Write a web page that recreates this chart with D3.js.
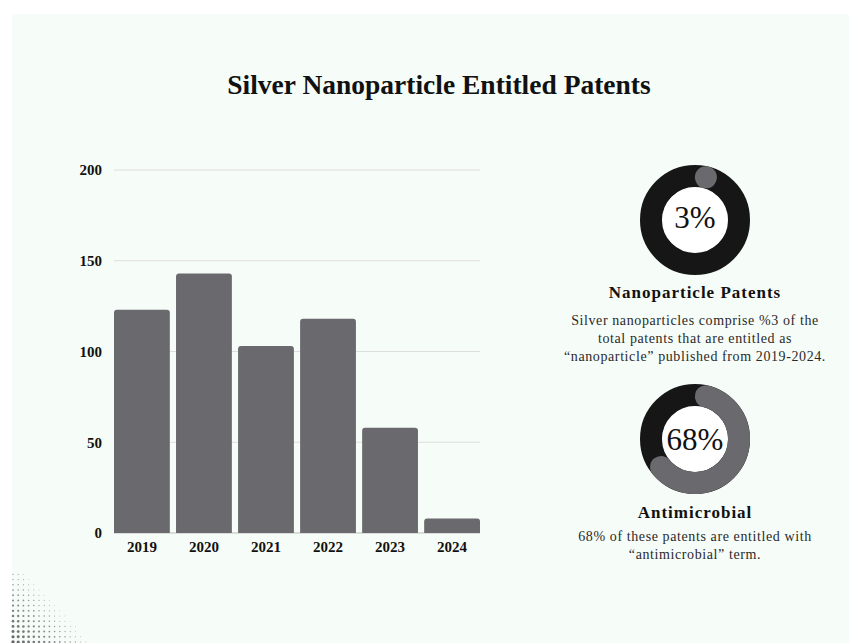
<!DOCTYPE html>
<html>
<head>
<meta charset="utf-8">
<script src="https://cdn.jsdelivr.net/npm/d3@7"></script>
<style>
  html, body { margin: 0; padding: 0; background: #ffffff; }
  svg { display: block; }
</style>
</head>
<body>
<div id="chart"></div>
<script>
const title = "Silver Nanoparticle Entitled Patents";
const years = ["2019", "2020", "2021", "2022", "2023", "2024"];
const patents = [123, 143, 103, 118, 58, 8];
const y_ticks = [0, 50, 100, 150, 200];

const donut_values = [3, 68];
const donut_labels = ["3%", "68%"];
const donut_titles = ["Nanoparticle Patents", "Antimicrobial"];
const donut_texts = [
  ["Silver nanoparticles comprise %3 of the", "total patents that are entitled as", "\u201cnanoparticle\u201d published from 2019-2024."],
  ["68% of these patents are entitled with", "\u201cantimicrobial\u201d term."]
];

const W = 849, H = 643;
const serif = "'Liberation Serif', 'Times New Roman', serif";
const bar_color = "#6a696e";
const ring_color = "#161616";

const svg = d3.select("#chart").append("svg")
  .attr("width", W)
  .attr("height", H);

// mint panel
svg.append("rect")
  .attr("x", 12).attr("y", 14)
  .attr("width", W - 12).attr("height", H - 14)
  .attr("fill", "#f6fcf8");

// halftone dots bottom-left (decoration)
const dots = svg.append("g");
for (let row = 0; row < 14; row++) {
  const cy = 642 - row * 5.2;
  for (let col = 0; col < 16; col++) {
    const cx = 13 + col * 5.2;
    const k = 1 - (col / 16 + row / 17);
    if (k <= 0.07) continue;
    dots.append("circle")
      .attr("cx", cx).attr("cy", cy)
      .attr("r", 1.35 * k + 0.3)
      .attr("fill", "#666")
      .attr("opacity", 0.5 + 0.5 * k);
  }
}

svg.append("text")
  .attr("x", 439).attr("y", 94)
  .attr("text-anchor", "middle")
  .attr("font-family", serif)
  .attr("font-weight", "bold")
  .attr("font-size", "27.5px")
  .attr("fill", "#111")
  .text(title);

// ---- bar chart ----
const x = d3.scaleBand().domain(years).range([114, 480]).paddingInner(0.1).paddingOuter(0);
const y = d3.scaleLinear().domain([0, 200]).range([533, 170]);

svg.append("g")
  .selectAll("line")
  .data(y_ticks)
  .join("line")
  .attr("x1", 114).attr("x2", 480)
  .attr("y1", d => y(d)).attr("y2", d => y(d))
  .attr("stroke", d => d === 0 ? "#bdbdbd" : "#dedede")
  .attr("stroke-width", 1);

const yAxis = svg.append("g")
  .attr("transform", "translate(102,0)")
  .call(d3.axisLeft(y).tickValues(y_ticks).tickSize(0).tickPadding(0));
yAxis.select(".domain").remove();
yAxis.selectAll("text")
  .attr("font-family", serif)
  .attr("font-weight", "bold")
  .attr("font-size", "15px")
  .attr("fill", "#111");

function topRounded(x0, y0, w, h, r) {
  r = Math.min(r, h, w / 2);
  return `M${x0},${y0 + h}V${y0 + r}Q${x0},${y0} ${x0 + r},${y0}H${x0 + w - r}Q${x0 + w},${y0} ${x0 + w},${y0 + r}V${y0 + h}Z`;
}

svg.append("g")
  .selectAll("path")
  .data(years.map((yr, i) => ({ yr, v: patents[i] })))
  .join("path")
  .attr("d", d => topRounded(x(d.yr), y(d.v), x.bandwidth(), y(0) - y(d.v), 3))
  .attr("fill", bar_color);

const xAxis = svg.append("g")
  .attr("transform", "translate(0,538)")
  .call(d3.axisBottom(x).tickSize(0).tickPadding(0));
xAxis.select(".domain").remove();
xAxis.selectAll("text")
  .attr("dy", "0.9em")
  .attr("font-family", serif)
  .attr("font-weight", "bold")
  .attr("font-size", "15px")
  .attr("fill", "#111");

// ---- donuts ----
const donut_cx = 695;
const donut_cy = [220, 439];
const r_out = 55, r_in = 33;
const r_mid = (r_out + r_in) / 2, thick = r_out - r_in;
const title_y = [298, 518];
const text_y = [325, 541];

donut_values.forEach((v, i) => {
  const g = svg.append("g").attr("transform", `translate(${donut_cx},${donut_cy[i]})`);
  g.append("circle")
    .attr("r", r_mid)
    .attr("fill", "none")
    .attr("stroke", ring_color)
    .attr("stroke-width", thick);
  g.append("circle").attr("r", r_in - 0.5).attr("fill", "#ffffff");

  // share arc with round ends kept inside the slice
  const a1 = 2 * Math.PI * v / 100;
  const cap = (thick / 2) / r_mid;
  const s = cap;
  const e = Math.max(s, a1 - cap);
  const line = d3.lineRadial().curve(d3.curveLinear);
  const n = Math.max(2, Math.ceil((e - s) / 0.02));
  const pts = d3.range(n + 1).map(k => [s + (e - s) * k / n, r_mid]);
  g.append("path")
    .attr("d", line(pts))
    .attr("fill", "none")
    .attr("stroke", bar_color)
    .attr("stroke-width", thick)
    .attr("stroke-linecap", "round");

  g.append("text")
    .attr("y", i === 0 ? 8 : 11)
    .attr("text-anchor", "middle")
    .attr("font-family", serif)
    .attr("font-size", "31px")
    .attr("fill", "#111")
    .text(donut_labels[i]);

  svg.append("text")
    .attr("x", donut_cx).attr("y", title_y[i])
    .attr("text-anchor", "middle")
    .attr("font-family", serif)
    .attr("font-weight", "bold")
    .attr("font-size", "17px")
    .attr("letter-spacing", "1px")
    .attr("fill", "#111")
    .text(donut_titles[i]);

  svg.append("g")
    .selectAll("text")
    .data(donut_texts[i])
    .join("text")
    .attr("x", donut_cx)
    .attr("y", (d, j) => text_y[i] + j * 18)
    .attr("text-anchor", "middle")
    .attr("font-family", serif)
    .attr("font-size", "14px")
    .attr("letter-spacing", "0.6px")
    .attr("fill", "#2a2a2a")
    .text(d => d);
});
</script>
</body>
</html>
